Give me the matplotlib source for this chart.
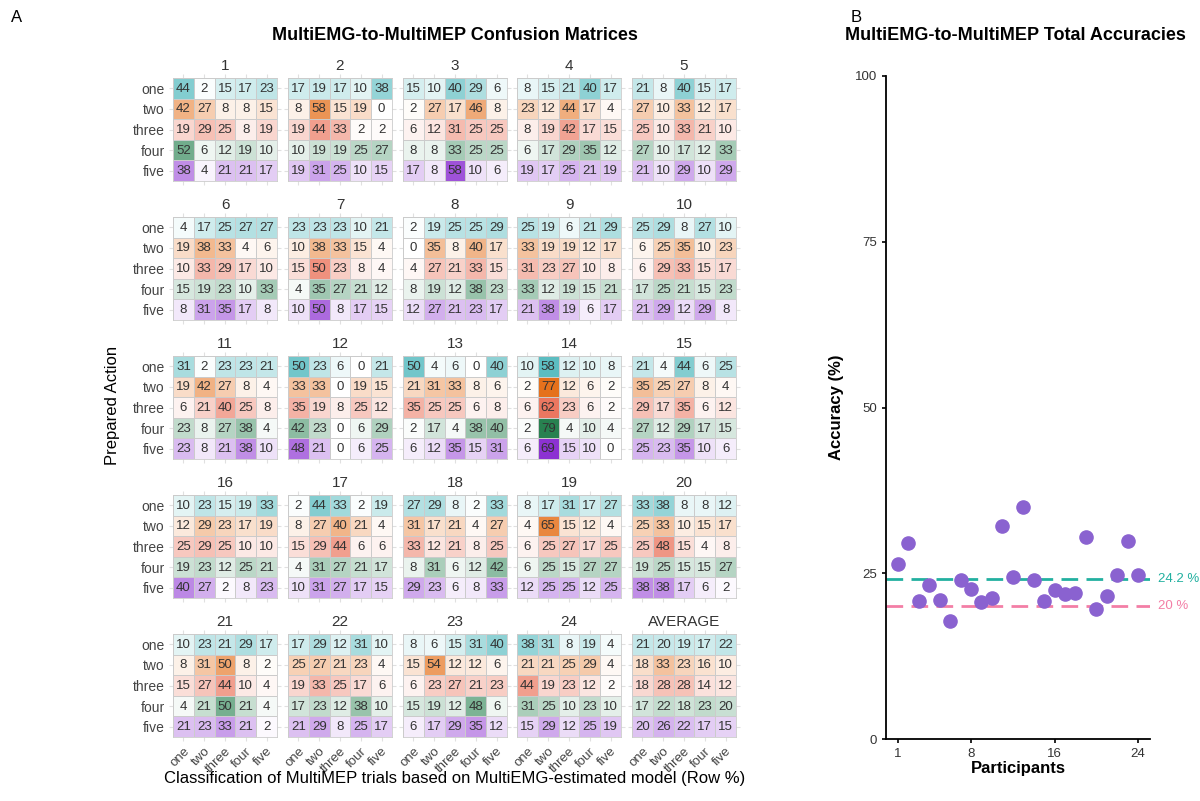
import numpy as np
import matplotlib
matplotlib.use("Agg")
import matplotlib.pyplot as plt
from matplotlib.colors import LinearSegmentedColormap

plt.rcParams["font.family"] = ["Liberation Sans", "DejaVu Sans"]

actions = ["one", "two", "three", "four", "five"]
panel_titles = [str(i) for i in range(1, 25)] + ["AVERAGE"]

# row % for each participant, rows = prepared action, cols = classification
matrices = [
    [[44, 2, 15, 17, 23], [42, 27, 8, 8, 15], [19, 29, 25, 8, 19], [52, 6, 12, 19, 10], [38, 4, 21, 21, 17]],
    [[17, 19, 17, 10, 38], [8, 58, 15, 19, 0], [19, 44, 33, 2, 2], [10, 19, 19, 25, 27], [19, 31, 25, 10, 15]],
    [[15, 10, 40, 29, 6], [2, 27, 17, 46, 8], [6, 12, 31, 25, 25], [8, 8, 33, 25, 25], [17, 8, 58, 10, 6]],
    [[8, 15, 21, 40, 17], [23, 12, 44, 17, 4], [8, 19, 42, 17, 15], [6, 17, 29, 35, 12], [19, 17, 25, 21, 19]],
    [[21, 8, 40, 15, 17], [27, 10, 33, 12, 17], [25, 10, 33, 21, 10], [27, 10, 17, 12, 33], [21, 10, 29, 10, 29]],
    [[4, 17, 25, 27, 27], [19, 38, 33, 4, 6], [10, 33, 29, 17, 10], [15, 19, 23, 10, 33], [8, 31, 35, 17, 8]],
    [[23, 23, 23, 10, 21], [10, 38, 33, 15, 4], [15, 50, 23, 8, 4], [4, 35, 27, 21, 12], [10, 50, 8, 17, 15]],
    [[2, 19, 25, 25, 29], [0, 35, 8, 40, 17], [4, 27, 21, 33, 15], [8, 19, 12, 38, 23], [12, 27, 21, 23, 17]],
    [[25, 19, 6, 21, 29], [33, 19, 19, 12, 17], [31, 23, 27, 10, 8], [33, 12, 19, 15, 21], [21, 38, 19, 6, 17]],
    [[25, 29, 8, 27, 10], [6, 25, 35, 10, 23], [6, 29, 33, 15, 17], [17, 25, 21, 15, 23], [21, 29, 12, 29, 8]],
    [[31, 2, 23, 23, 21], [19, 42, 27, 8, 4], [6, 21, 40, 25, 8], [23, 8, 27, 38, 4], [23, 8, 21, 38, 10]],
    [[50, 23, 6, 0, 21], [33, 33, 0, 19, 15], [35, 19, 8, 25, 12], [42, 23, 0, 6, 29], [48, 21, 0, 6, 25]],
    [[50, 4, 6, 0, 40], [21, 31, 33, 8, 6], [35, 25, 25, 6, 8], [2, 17, 4, 38, 40], [6, 12, 35, 15, 31]],
    [[10, 58, 12, 10, 8], [2, 77, 12, 6, 2], [6, 62, 23, 6, 2], [2, 79, 4, 10, 4], [6, 69, 15, 10, 0]],
    [[21, 4, 44, 6, 25], [35, 25, 27, 8, 4], [29, 17, 35, 6, 12], [27, 12, 29, 17, 15], [25, 23, 35, 10, 6]],
    [[10, 23, 15, 19, 33], [12, 29, 23, 17, 19], [25, 29, 25, 10, 10], [19, 23, 12, 25, 21], [40, 27, 2, 8, 23]],
    [[2, 44, 33, 2, 19], [8, 27, 40, 21, 4], [15, 29, 44, 6, 6], [4, 31, 27, 21, 17], [10, 31, 27, 17, 15]],
    [[27, 29, 8, 2, 33], [31, 17, 21, 4, 27], [33, 12, 21, 8, 25], [8, 31, 6, 12, 42], [29, 23, 6, 8, 33]],
    [[8, 17, 31, 17, 27], [4, 65, 15, 12, 4], [6, 25, 27, 17, 25], [6, 25, 15, 27, 27], [12, 25, 25, 12, 25]],
    [[33, 38, 8, 8, 12], [25, 33, 10, 15, 17], [25, 48, 15, 4, 8], [19, 25, 15, 15, 27], [38, 38, 17, 6, 2]],
    [[10, 23, 21, 29, 17], [8, 31, 50, 8, 2], [15, 27, 44, 10, 4], [4, 21, 50, 21, 4], [21, 23, 33, 21, 2]],
    [[17, 29, 12, 31, 10], [25, 27, 21, 23, 4], [19, 33, 25, 17, 6], [17, 23, 12, 38, 10], [21, 29, 8, 25, 17]],
    [[8, 6, 15, 31, 40], [15, 54, 12, 12, 6], [6, 23, 27, 21, 23], [15, 19, 12, 48, 6], [6, 17, 29, 35, 12]],
    [[38, 31, 8, 19, 4], [21, 21, 25, 29, 4], [44, 19, 23, 12, 2], [31, 25, 10, 23, 10], [15, 29, 12, 25, 19]],
    [[21, 20, 19, 17, 22], [18, 33, 23, 16, 10], [18, 28, 28, 14, 12], [17, 22, 18, 23, 20], [20, 26, 22, 17, 15]],
]

participants = list(range(1, 25))
accuracy = [26.4, 29.6, 20.8, 23.2, 21.0, 17.8, 24.0, 22.6, 20.6, 21.2, 32.2, 24.4,
            35.0, 24.0, 20.8, 22.4, 21.8, 22.0, 30.4, 19.6, 21.6, 24.8, 29.8, 24.8]
mean_accuracy = 24.2
chance = 20

row_colors = ["#1ea4aa", "#e46c14", "#e55032", "#25804e", "#7a11cb"]
row_cmaps = [LinearSegmentedColormap.from_list("r%d" % i, ["#ffffff", c]) for i, c in enumerate(row_colors)]

W, H = 1200, 801
fig = plt.figure(figsize=(12, 8.01), dpi=100)


def px_axes(x0, y0, w, h):
    return fig.add_axes([x0 / W, 1 - (y0 + h) / H, w / W, h / H])


grid_x = [173, 288, 403, 517, 632]
grid_y = [78, 217, 356, 495, 634]
cell_w, cell_h = 104, 103

for k, mat in enumerate(matrices):
    r, c = divmod(k, 5)
    ax = px_axes(grid_x[c], grid_y[r], cell_w, cell_h)
    mat = np.array(mat, dtype=float)
    for i in range(5):
        ax.pcolormesh(np.arange(6), [i, i + 1], mat[i:i + 1], cmap=row_cmaps[i], vmin=0, vmax=80,
                      edgecolors="#cbcbcb", linewidth=0.6)
        for j in range(5):
            ax.text(j + 0.5, i + 0.52, "%d" % mat[i, j], ha="center", va="center",
                    fontsize=9.5, color="#333333")
    ax.set_xlim(0, 5)
    ax.set_ylim(5, 0)
    ax.set_xticks(np.arange(5) + 0.5)
    ax.set_yticks(np.arange(5) + 0.5)
    ax.tick_params(length=3, color="#e0e0e0", top=True, right=True, labelsize=10,
                   labelcolor="#444444", pad=3)
    if c == 0:
        ax.set_yticklabels(actions)
    else:
        ax.set_yticklabels([])
    if r == 4:
        ax.set_xticklabels(actions, rotation=45, ha="right", rotation_mode="anchor", fontsize=9.5)
    else:
        ax.set_xticklabels([])
    for s in ax.spines.values():
        s.set_color("#cbcbcb")
        s.set_linewidth(0.6)
    ax.set_title(panel_titles[k], fontsize=11, color="#333333", pad=6)

fig.text(455 / W, 1 - 35 / H, "MultiEMG-to-MultiMEP Confusion Matrices", ha="center", va="center",
         fontsize=13, fontweight="bold")
fig.text(17 / W, 1 - 18 / H, "A", ha="center", va="center", fontsize=12)
fig.text(856 / W, 1 - 18 / H, "B", ha="center", va="center", fontsize=12)
fig.text(112 / W, 1 - 405 / H, "Prepared Action", rotation=90, ha="center", va="center", fontsize=12)
fig.text(455 / W, 1 - 779 / H, "Classification of MultiMEP trials based on MultiEMG-estimated model (Row %)",
         ha="center", va="center", fontsize=12)

# total accuracies
bx = px_axes(886, 76, 264, 663)
bx.axhline(mean_accuracy, color="#22b0a0", linestyle=(0, (6, 3)), linewidth=2, zorder=1)
bx.axhline(chance, color="#f37ea6", linestyle=(0, (6, 3)), linewidth=2, zorder=1)
bx.scatter(participants, accuracy, s=90, color="#8a62d0", zorder=3)
bx.text(25.9, mean_accuracy, "24.2 %", color="#22b0a0", va="center", ha="left", fontsize=9.5, clip_on=False)
bx.text(25.9, chance, "20 %", color="#f37ea6", va="center", ha="left", fontsize=9.5, clip_on=False)
bx.set_xlim(-0.15, 25.15)
bx.set_ylim(0, 100)
bx.set_xticks([1, 8, 16, 24])
bx.set_yticks([0, 25, 50, 75, 100])
bx.spines["top"].set_visible(False)
bx.spines["right"].set_visible(False)
bx.spines["left"].set_linewidth(1.3)
bx.spines["bottom"].set_linewidth(1.3)
bx.tick_params(labelsize=9.5, labelcolor="#333333", length=3, width=1.2)
bx.set_xlabel("Participants", fontsize=12, fontweight="bold", labelpad=1)
bx.set_ylabel("Accuracy (%)", fontsize=12, fontweight="bold", labelpad=8)
fig.text(1015 / W, 1 - 35 / H, "MultiEMG-to-MultiMEP Total Accuracies", ha="center", va="center",
         fontsize=13, fontweight="bold")

fig.savefig("out.png", dpi=100)
